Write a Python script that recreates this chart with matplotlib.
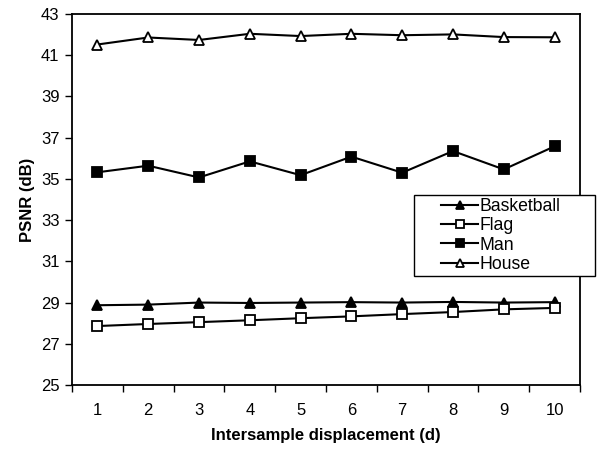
import matplotlib
matplotlib.use("Agg")
import matplotlib.pyplot as plt
from matplotlib.patches import Rectangle
from matplotlib.ticker import FixedLocator

plt.rcParams['font.family'] = ['Liberation Sans', 'DejaVu Sans']

# data
d = [1, 2, 3, 4, 5, 6, 7, 8, 9, 10]
basketball = [28.87, 28.90, 29.00, 28.98, 29.00, 29.02, 29.00, 29.03, 29.00, 29.02]
flag = [27.86, 27.96, 28.05, 28.14, 28.24, 28.33, 28.44, 28.54, 28.67, 28.74]
man = [35.32, 35.64, 35.07, 35.85, 35.18, 36.08, 35.30, 36.35, 35.46, 36.58]
house = [41.52, 41.86, 41.74, 42.04, 41.93, 42.04, 41.97, 42.01, 41.88, 41.87]
yticks = [25, 27, 29, 31, 33, 35, 37, 39, 41, 43]

W, H = 602, 453
fig = plt.figure(figsize=(W / 100, H / 100), dpi=100)
ax = fig.add_axes([72 / W, 1 - 385 / H, (580 - 72) / W, (385 - 14) / H])

kw = dict(color="black", lw=1.5, ms=7, markeredgewidth=1.3)
ax.plot(d, basketball, marker="^", mfc="black", label="Basketball", **kw)
ax.plot(d, flag, marker="s", mfc="white", label="Flag", **kw)
ax.plot(d, man, marker="s", mfc="black", label="Man", **kw)
ax.plot(d, house, marker="^", mfc="white", label="House", **kw)

ax.set_xlim(0.5, 10.5)
ax.set_ylim(25, 43)
ax.set_yticks(yticks)
ax.set_xticks(d)
ax.set_xticklabels([str(v) for v in d])
ax.xaxis.set_minor_locator(FixedLocator([v + 0.5 for v in range(0, 11)]))
ax.tick_params(axis="x", which="major", length=0, pad=13, labelsize=12)
ax.tick_params(axis="x", which="minor", length=5, width=1, direction="out")
ax.tick_params(axis="y", length=5, width=1, direction="out", labelsize=12, pad=4)
for s in ax.spines.values():
    s.set_linewidth(1.3)

ax.set_xlabel("Intersample displacement (d)", fontsize=12, fontweight="bold", labelpad=7)
ax.set_ylabel("PSNR (dB)", fontsize=12, fontweight="bold", labelpad=4)

# legend box is wider than its contents (Excel style), so draw the frame separately
fig.patches.append(Rectangle((414 / W, 1 - 276 / H), 181 / W, 81 / H,
                             transform=fig.transFigure, fill=True, fc="white",
                             ec="black", lw=1.0, zorder=3))
leg = ax.legend(loc="upper left", bbox_to_anchor=(441 / W, 1 - 198 / H),
                bbox_transform=fig.transFigure, frameon=False,
                fontsize=12.7, handlelength=2.1, borderpad=0, labelspacing=0.13,
                handletextpad=0.1, borderaxespad=0, markerscale=0.9)
leg.set_zorder(4)
leg.set_clip_on(False)
fig.legends.append(leg)
ax.get_legend().remove()

fig.savefig("out.png", dpi=100)
